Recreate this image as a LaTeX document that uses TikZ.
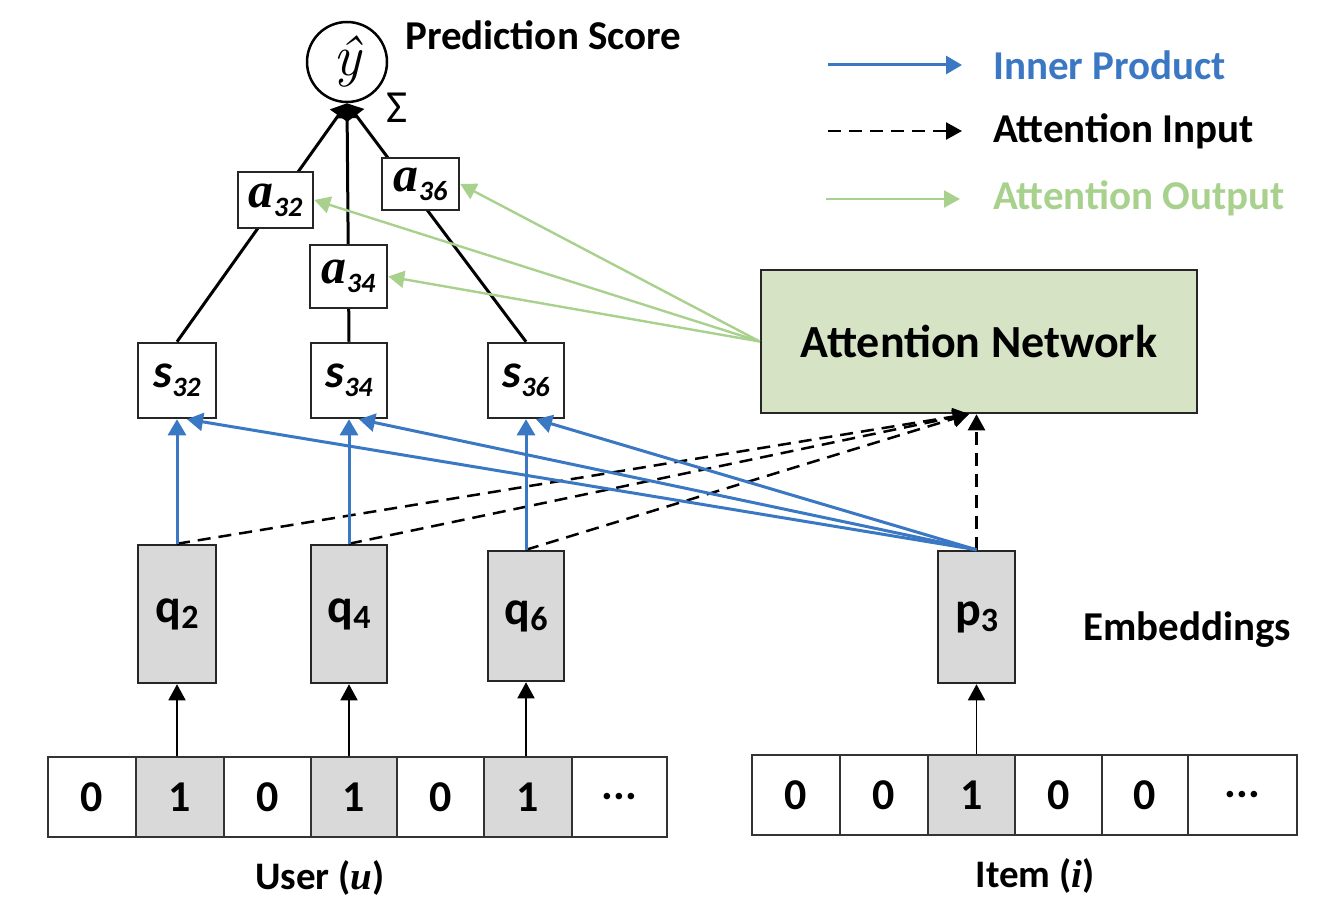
\documentclass[tikz,border=0pt]{standalone}
\usepackage{fontspec}
\setmainfont{Carlito}
\newfontfamily\lmr{Latin Modern Roman}
\newfontfamily\serif{Liberation Serif}
\usetikzlibrary{arrows.meta}
\definecolor{ipblue}{RGB}{58,120,196}
\definecolor{aogreen}{RGB}{169,209,142}
\definecolor{anfill}{RGB}{214,228,197}
\definecolor{cellgray}{RGB}{217,217,217}
\newcommand{\fsz}[1]{\fontsize{#1}{#1}\selectfont}
\newcommand{\sublbl}[2]{{\fsz{48}\bfseries\itshape #1}{\fsz{28}\bfseries\itshape\raisebox{-9pt}{#2}}}
\newcommand{\alpbl}[1]{{\serif\fsz{50}\bfseries\itshape a}{\fsz{28}\bfseries\itshape\raisebox{-9pt}{#1}}}
\newcommand{\emblbl}[2]{{\fsz{48}\bfseries #1}{\fsz{34}\bfseries\raisebox{-6pt}{#2}}}
\begin{document}
\begin{tikzpicture}[x=1pt,y=-1pt,
  box/.style={draw=black!85,line width=2.5pt,inner sep=0pt,fill=white},
  gbox/.style={box,fill=cellgray},
  cell/.style={draw=black!80,line width=2pt,inner sep=0pt,minimum height=80pt,font=\fsz{44}\bfseries},
  lbl/.style={inner sep=0pt,font=\fsz{41}\bfseries},
  tree/.style={line width=3pt,-{Triangle[width=20pt,length=15pt]}},
  iparrow/.style={draw=ipblue,line width=3pt,-{Triangle[width=18pt,length=16pt]}},
  aiarrow/.style={draw=black,line width=2.5pt,dash pattern=on 13pt off 8pt,-{Triangle[width=17pt,length=16pt]}},
  aoarrow/.style={draw=aogreen,line width=2.4pt,-{Triangle[width=17pt,length=16pt]}},
  uparrow/.style={draw=black,line width=1.6pt,-{Triangle[width=17pt,length=16pt]}}
]
\useasboundingbox (0,0) rectangle (1337,909);

% prediction node
\node[circle,draw=black,line width=2.5pt,minimum size=80pt,inner sep=0pt] (yhat) at (347,62) {\lmr\fsz{58}\itshape ŷ};
\node[lbl,anchor=west] (ps) at (405,35) {Prediction Score};
\node[inner sep=0pt,font=\fsz{46}] (sigma) at (397,108) {Σ};

% score nodes
\node[box,minimum width=78pt,minimum height=75pt] (s32) at (177,380.5) {\sublbl{s}{32}};
\node[box,minimum width=76pt,minimum height=75pt] (s34) at (349,380.5) {\sublbl{s}{34}};
\node[box,minimum width=76pt,minimum height=75pt] (s36) at (526,380.5) {\sublbl{s}{36}};

% tree lines
\draw[tree] (s32.north) -- (yhat.south);
\draw[tree] (s34.north) -- (yhat.south);
\draw[tree] (s36.north) -- (yhat.south);

% attention weight nodes
\node[box,minimum width=75pt,minimum height=56pt] (a32) at (275.5,200) {\alpbl{32}};
\node[box,minimum width=77pt,minimum height=63pt] (a34) at (348.5,276.5) {\alpbl{34}};
\node[box,minimum width=77pt,minimum height=52pt] (a36) at (420.5,184) {\alpbl{36}};

% attention network
\node[draw=black!85,line width=2.5pt,fill=anfill,minimum width=436pt,minimum height=143pt,inner sep=0pt,font=\fsz{46}\bfseries] (an) at (979,341.5) {Attention Network};
\coordinate (anin) at (969,414);

% embeddings
\node[gbox,minimum width=78pt,minimum height=138pt] (q2) at (177,614) {\emblbl{q}{2}};
\node[gbox,minimum width=76pt,minimum height=138pt] (q4) at (349,614) {\emblbl{q}{4}};
\node[gbox,minimum width=76pt,minimum height=130pt] (q6) at (526,616) {\emblbl{q}{6}};
\node[gbox,minimum width=77pt,minimum height=132pt] (p3) at (976.5,617) {\emblbl{p}{3}};
\node[lbl,anchor=west] (emb) at (1083,630) {Embeddings};

% user vector
\node[cell,minimum width=88pt] (u1) at (92,797) {0};
\node[cell,minimum width=88pt,fill=cellgray] (u2) at (180,797) {1};
\node[cell,minimum width=87pt] (u3) at (267.5,797) {0};
\node[cell,minimum width=86pt,fill=cellgray] (u4) at (354,797) {1};
\node[cell,minimum width=87pt] (u5) at (440.5,797) {0};
\node[cell,minimum width=88pt,fill=cellgray] (u6) at (528,797) {1};
\node[cell,minimum width=95pt] (u7) at (619.5,797) {...};
\node[inner sep=0pt,font=\fsz{39}\bfseries] (user) at (320,878) {User ({\serif\itshape u})};

% item vector
\node[cell,minimum width=88pt] (i1) at (796,795) {0};
\node[cell,minimum width=88pt] (i2) at (884,795) {0};
\node[cell,minimum width=87pt,fill=cellgray] (i3) at (971.5,795) {1};
\node[cell,minimum width=87pt] (i4) at (1058.5,795) {0};
\node[cell,minimum width=86pt] (i5) at (1145,795) {0};
\node[cell,minimum width=109pt] (i6) at (1242.5,795) {...};
\node[inner sep=0pt,font=\fsz{39}\bfseries] (item) at (1035,876) {Item ({\serif\itshape i})};

% one-hot to embedding
\draw[uparrow] (q2.south |- u2.north) -- (q2.south);
\draw[uparrow] (q4.south |- u4.north) -- (q4.south);
\draw[uparrow] (q6.south |- u6.north) -- (q6.south);
\draw[uparrow] (p3.south |- i3.north) -- (p3.south);

% attention input
\draw[aiarrow] (q2.north) -- (anin);
\draw[aiarrow] (q4.north) -- (anin);
\draw[aiarrow] (q6.north) -- (anin);
\draw[aiarrow] (p3.north) -- (p3.north |- an.south);

% inner product
\draw[iparrow] (q2.north) -- (s32.south);
\draw[iparrow] (q4.north) -- (s34.south);
\draw[iparrow] (q6.north) -- (s36.south);
\draw[iparrow] (p3.north) -- ([xshift=10pt]s32.south);
\draw[iparrow] (p3.north) -- ([xshift=10pt]s34.south);
\draw[iparrow] (p3.north) -- ([xshift=10pt]s36.south);

% attention output
\draw[aoarrow] (an.west) -- (a32.east);
\draw[aoarrow] (an.west) -- (a34.east);
\draw[aoarrow] (an.west) -- (a36.east);

% legend
\coordinate (l1a) at (828,65); \coordinate (l1b) at (962,65);
\coordinate (l2a) at (828,131); \coordinate (l2b) at (962,131);
\coordinate (l3a) at (826,199); \coordinate (l3b) at (960,199);
\draw[iparrow] (l1a) -- (l1b);
\draw[aiarrow] (l2a) -- (l2b);
\draw[aoarrow] (l3a) -- (l3b);
\node[lbl,anchor=west,text=ipblue] (t1) at (993,65) {Inner Product};
\node[lbl,anchor=west] (t2) at (993,131) {Attention Input};
\node[lbl,anchor=west,text=aogreen] (t3) at (993,198) {Attention Output};
\end{tikzpicture}
\end{document}
